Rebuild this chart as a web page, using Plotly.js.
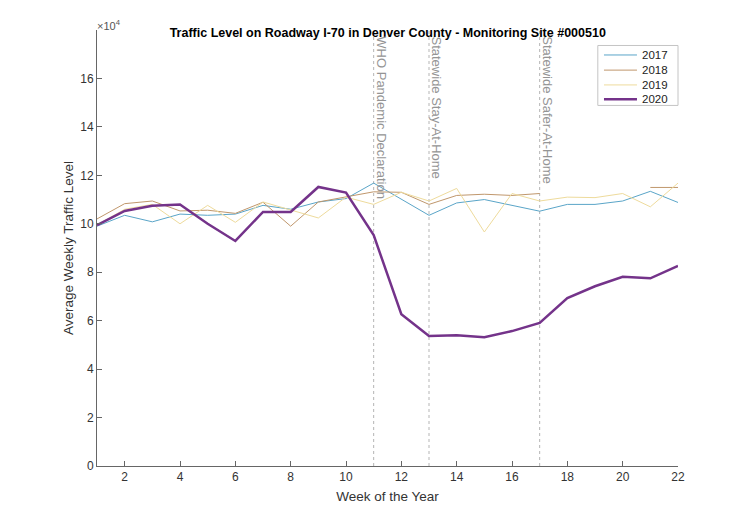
<!DOCTYPE html>
<html>
<head>
<meta charset="utf-8">
<script src="https://cdn.plot.ly/plotly-3.0.1.min.js"></script>
<style>html,body{margin:0;padding:0;background:#fff;}#chart{width:750px;height:525px;}</style>
</head>
<body>
<div id="chart"></div>
<script>
const weeks = [1,2,3,4,5,6,7,8,9,10,11,12,13,14,15,16,17,18,19,20,21,22];
const traffic2017 = [99000,103500,100800,104000,103500,104000,107600,106000,109000,110400,116800,110000,103500,108600,110000,107600,105200,108000,108000,109400,113400,108800];
const traffic2018 = [102000,108300,109400,105300,105600,104300,108900,99000,109000,111000,113200,113000,108000,111700,112200,111700,112500,null,null,null,115000,115000];
const traffic2019 = [99500,106000,108000,100000,107600,100600,109000,105600,102400,111000,108000,113000,109400,114600,96600,112500,109400,111000,110800,112500,107000,116800];
const traffic2020 = [99400,105300,107400,108000,100000,92900,104900,104900,115200,112900,95300,62700,53700,54000,53200,55700,59100,69300,74200,78100,77500,82600];
const eventWeeks = [11, 13, 17];
const eventLabels = ["WHO Pandemic Declaration", "Statewide Stay-At-Home", "Statewide Safer-At-Home"];
const yTicks = [0,20000,40000,60000,80000,100000,120000,140000,160000];
const yTickText = ["0","2","4","6","8","10","12","14","16"];
const xTicks = [2,4,6,8,10,12,14,16,18,20,22];

const font = "Liberation Sans, Arial, sans-serif";
const series = [
  {name: "2017", y: traffic2017, color: "#5aa5c8", width: 1},
  {name: "2018", y: traffic2018, color: "#c0976c", width: 1},
  {name: "2019", y: traffic2019, color: "#eedb9c", width: 1},
  {name: "2020", y: traffic2020, color: "#74338a", width: 2.5}
];
const traces = series.map(s => ({
  x: weeks, y: s.y, name: s.name, type: "scatter", mode: "lines",
  line: {color: s.color, width: s.width}, connectgaps: false, showlegend: false
}));

const shapes = eventWeeks.map(w => ({
  type: "line", xref: "x", yref: "paper", x0: w, x1: w, y0: 0, y1: 1,
  line: {color: "#b5b5b5", width: 1, dash: "dot"}, layer: "below"
}));
const annotations = eventWeeks.map((w, i) => ({
  x: w, xref: "x", y: 1, yref: "paper", text: eventLabels[i], textangle: 90,
  showarrow: false, xanchor: "left", yanchor: "top", xshift: -2, yshift: -4,
  font: {family: font, size: 13, color: "#949494"}
}));
annotations.push({
  x: 0, xref: "paper", y: 1, yref: "paper", text: "×10<sup>4</sup>",
  showarrow: false, xanchor: "left", yanchor: "bottom", yshift: -4, xshift: -2,
  font: {family: font, size: 11, color: "#555"}
});

// compact legend box (MATLAB style)
const legX0 = 0.862, legX1 = 1.0, legY0 = 0.827, legY1 = 0.9645;
shapes.push({type: "rect", xref: "paper", yref: "paper", x0: legX0, x1: legX1, y0: legY0, y1: legY1,
  line: {color: "#c4c4c4", width: 1}, fillcolor: "#fff", layer: "above"});
const rowY = [0.9427, 0.908, 0.874, 0.841];
series.forEach((s, i) => {
  shapes.push({type: "line", xref: "paper", yref: "paper", x0: 0.8726, x1: 0.9294, y0: rowY[i], y1: rowY[i],
    line: {color: s.color, width: s.width}, layer: "above"});
  annotations.push({x: 0.934, xref: "paper", y: rowY[i], yref: "paper", text: s.name, showarrow: false,
    xanchor: "left", yanchor: "middle", font: {family: font, size: 11.5, color: "#222"}});
});

const layout = {
  width: 750, height: 525,
  margin: {l: 97, r: 72, t: 30, b: 59},
  paper_bgcolor: "#fff", plot_bgcolor: "#fff",
  font: {family: font, color: "#333"},
  showlegend: false,
  title: {text: "<b>Traffic Level on Roadway I-70 in Denver County - Monitoring Site #000510</b>",
    font: {family: font, size: 12.5, color: "#000"}, x: 0.517, xanchor: "center", y: 0.937, yanchor: "middle"},
  xaxis: {
    range: [1, 22], tickvals: xTicks, ticks: "inside", ticklen: 5, tickcolor: "#666",
    showline: true, linecolor: "#666", linewidth: 1, showgrid: false, zeroline: false,
    tickfont: {family: font, size: 12, color: "#333"},
    title: {text: "Week of the Year", font: {family: font, size: 13.5, color: "#333"}, standoff: 8}
  },
  yaxis: {
    range: [0, 180000], tickvals: yTicks, ticktext: yTickText, ticks: "inside", ticklen: 5, tickcolor: "#666",
    showline: true, linecolor: "#666", linewidth: 1, showgrid: false, zeroline: false,
    tickfont: {family: font, size: 12, color: "#333"},
    title: {text: "Average Weekly Traffic Level", font: {family: font, size: 13.5, color: "#333"}, standoff: 3}
  },
  shapes: shapes,
  annotations: annotations
};

Plotly.newPlot("chart", traces, layout, {displayModeBar: false, staticPlot: true});
</script>
</body>
</html>
